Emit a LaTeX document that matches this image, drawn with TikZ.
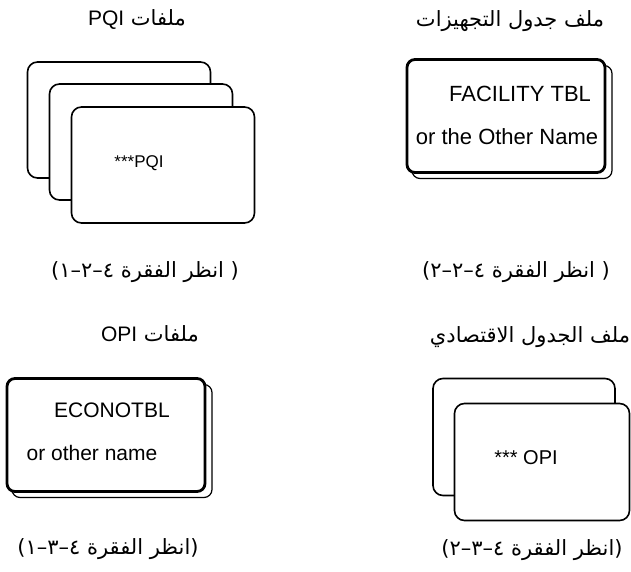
\documentclass[tikz,border=0pt]{standalone}
\usepackage{fontspec}
\setmainfont{Liberation Sans}
\newfontfamily\arabicfont[Script=Arabic]{DejaVu Sans}
\TeXXeTstate=1

\begin{document}
\begin{tikzpicture}[x=1pt, y=-1pt,
  card/.style={draw, line width=1.6pt, rounded corners=10pt, fill=white, minimum width=183pt, minimum height=116pt, inner sep=0pt},
  tbl/.style={draw, line width=2.8pt, rounded corners=8pt, fill=white, minimum width=198pt, minimum height=113pt, inner sep=0pt},
  tblshade/.style={draw, line width=1.2pt, rounded corners=8pt, fill=white, minimum width=200pt, minimum height=113pt, inner sep=0pt},
  headtxt/.style={font=\arabicfont\fontsize{21}{24}\selectfont, inner sep=0pt},
  captxt/.style={font=\arabicfont\fontsize{21}{24}\selectfont, inner sep=0pt},
  lbl/.style={font=\fontsize{22}{26}\selectfont, inner sep=0pt}
]
\useasboundingbox (0,0) rectangle (631,572);

% PQI files
\node[headtxt] (hPQI) at (137,20) {\beginR ملفات {\rmfamily PQI}\endR};
\node[card] (pqiA) at (119,120) {};
\node[card] (pqiB) at (141,142) {};
\node[card] (pqiC) at (163,165) {};
\node[lbl, font=\fontsize{17}{20}\selectfont] (pqiT) at (139,163) {***PQI};
\node[captxt] (cPQI) at (145,272) {\beginR( انظر الفقرة ٤–٢–١)\endR};

% facility table
\node[headtxt] (hFac) at (510,21) {\beginR ملف جدول التجهيزات\endR};
\node[tblshade] (facS) at (512,122) {};
\node[tbl] (facB) at (506,116) {};
\node[lbl] (facT1) at (520,94) {FACILITY TBL};
\node[lbl] (facT2) at (507,137) {or the Other Name};
\node[captxt] (cFac) at (516,272) {\beginR( انظر الفقرة ٤–٢–٢)\endR};

% economic table
\node[headtxt] (hOPI) at (150,334) {\beginR ملفات {\rmfamily OPI}\endR};
\node[tblshade] (ecoS) at (112,441) {};
\node[tbl] (ecoB) at (106,435) {};
\node[lbl, font=\fontsize{21}{25}\selectfont] (ecoT1) at (112,410) {ECONOTBL};
\node[lbl, font=\fontsize{21}{25}\selectfont] (ecoT2) at (92,453) {or other name};
\node[captxt] (cEco) at (108,549) {\beginR(انظر الفقرة ٤–٣–١)\endR};

% OPI files
\node[headtxt] (hEco) at (530,337) {\beginR ملف الجدول الاقتصادي\endR};
\node[card, minimum width=182pt, minimum height=117pt] (opiA) at (524,437) {};
\node[card, minimum width=175pt, minimum height=117pt] (opiB) at (542,462) {};
\node[lbl, font=\fontsize{20}{24}\selectfont] (opiT) at (526,458) {*** OPI};
\node[captxt] (cOPI) at (532,550) {\beginR(انظر الفقرة ٤–٣–٢)\endR};
\end{tikzpicture}
\end{document}
